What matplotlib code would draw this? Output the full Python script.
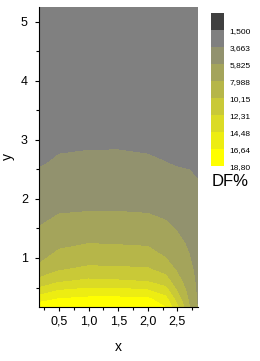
import numpy as np
import matplotlib
import matplotlib.pyplot as plt
from matplotlib.colors import ListedColormap, BoundaryNorm
from matplotlib.ticker import FuncFormatter, MultipleLocator

matplotlib.use("Agg")

plt.rcParams["font.family"] = ["Liberation Sans", "DejaVu Sans"]

# grid of DF% values
x_vals = [0.16, 0.5, 1.0, 1.5, 2.0, 2.3, 2.5, 2.7, 2.85]
y_vals = [0.17, 0.3, 0.45, 0.6, 0.8, 1.0, 1.25, 1.5, 1.8, 2.2, 2.6, 3.0, 4.0, 5.25]

# one row per y value, one column per x value
df_vals = [
    [18.0, 18.4, 18.6, 18.6, 18.4, 16.6, 12.6, 8.1, 5.6],
    [15.7, 16.8, 17.2, 17.2, 17.1, 15.3, 11.4, 7.6, 5.5],
    [13.0, 14.5, 15.1, 15.1, 14.6, 13.2, 9.9, 7.2, 5.4],
    [10.9, 12.1, 12.8, 12.6, 12.3, 11.2, 8.8, 6.8, 5.3],
    [8.6, 10.0, 10.6, 10.5, 10.4, 9.4, 7.7, 6.4, 5.15],
    [7.5, 8.7, 9.3, 9.2, 9.05, 8.0, 7.1, 5.95, 5.0],
    [6.7, 7.5, 7.95, 7.85, 7.7, 7.1, 6.4, 5.5, 4.8],
    [5.9, 6.6, 6.95, 6.9, 6.7, 6.2, 5.65, 5.1, 4.6],
    [5.25, 5.65, 5.78, 5.78, 5.67, 5.4, 5.1, 4.7, 4.3],
    [4.4, 4.8, 4.9, 4.92, 4.8, 4.5, 4.3, 4.1, 3.85],
    [3.5, 3.9, 4.0, 4.02, 3.9, 3.7, 3.55, 3.5, 3.3],
    [3.2, 3.3, 3.4, 3.4, 3.3, 3.2, 3.1, 3.0, 2.9],
    [2.7, 2.8, 2.9, 2.9, 2.8, 2.7, 2.6, 2.5, 2.4],
    [2.2, 2.3, 2.4, 2.4, 2.3, 2.2, 2.1, 2.0, 2.0],
]

levels = [1.5, 3.663, 5.825, 7.988, 10.15, 12.31, 14.48, 16.64, 18.80]
level_labels = ["1,500", "3,663", "5,825", "7,988", "10,15", "12,31", "14,48", "16,64", "18,80"]

colors = ["#808080", "#92926e", "#a4a45b", "#b6b649", "#c9c937", "#dbdb25", "#eded12", "#ffff00"]
cmap = ListedColormap(colors)
cmap.set_under("#404040")
norm = BoundaryNorm(levels, cmap.N)

X, Y = np.meshgrid(x_vals, y_vals)
Z = np.array(df_vals)

fig = plt.figure(figsize=(2.6, 3.61), dpi=100)
ax = fig.add_axes([0.15, 0.1496, 0.6115, 0.831])

ax.contourf(X, Y, Z, levels=levels, cmap=cmap, norm=norm, extend="min")

ax.set_xlim(0.16, 2.85)
ax.set_ylim(0.17, 5.25)

ax.xaxis.set_major_locator(MultipleLocator(0.5))
ax.xaxis.set_minor_locator(MultipleLocator(0.25))
ax.yaxis.set_major_locator(MultipleLocator(1))
ax.yaxis.set_minor_locator(MultipleLocator(0.5))
ax.xaxis.set_major_formatter(FuncFormatter(lambda v, p: f"{v:.1f}".replace(".", ",")))
ax.yaxis.set_major_formatter(FuncFormatter(lambda v, p: f"{v:.0f}"))

ax.tick_params(which="major", direction="out", length=3, width=0.8, labelsize=9, pad=3)
ax.tick_params(which="minor", direction="out", length=2, width=0.8)
ax.tick_params(axis="y", pad=5)

ax.spines["top"].set_visible(False)
ax.spines["right"].set_visible(False)

ax.set_xlabel("x", fontsize=10, labelpad=9)
ax.set_ylabel("y", fontsize=10, labelpad=4)

cax = fig.add_axes([0.8115, 0.540, 0.05, 0.4238])
cb = fig.colorbar(
    plt.cm.ScalarMappable(norm=norm, cmap=cmap), cax=cax,
    extend="min", extendrect=True, extendfrac=0.125, ticks=levels,
)
cb.ax.invert_yaxis()
cb.outline.set_visible(False)
cb.ax.set_yticklabels(level_labels)
cb.ax.tick_params(length=0, labelsize=6, pad=4)

fig.text(212 / 260, 1 - 182 / 361, "DF%", fontsize=12, ha="left", va="center")

fig.savefig("out.png", dpi=100)
